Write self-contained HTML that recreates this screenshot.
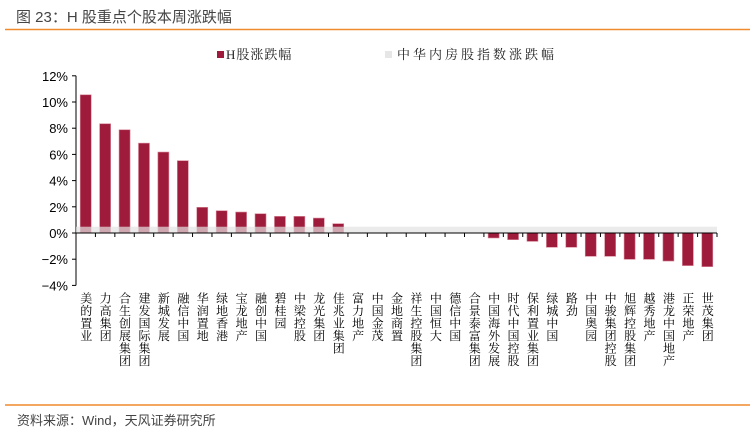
<!DOCTYPE html>
<html><head><meta charset="utf-8"><style>
body{margin:0;background:#fff;}
svg{display:block;font-family:"Liberation Sans","Noto Sans CJK SC",sans-serif;}
.serif{font-family:"Liberation Serif","Noto Serif CJK SC",serif;}
</style></head><body>
<svg id="chart" width="755" height="437">
<text x="16" y="22" font-size="15" fill="#444">图 23：H 股重点个股本周涨跌幅</text>
<line x1="5" y1="29.5" x2="750" y2="29.5" stroke="#F08A2C" stroke-width="1.5"/>
<g>
<rect x="217" y="51" width="7" height="7" fill="#9E1B3B"/>
<text x="226" y="59" font-size="13" fill="#222" class="serif" letter-spacing="1">H股涨跌幅</text>
<rect x="385" y="51" width="7" height="7" fill="#E6E6E6"/>
<text x="397" y="59" font-size="13" fill="#222" class="serif" letter-spacing="3">中华内房股指数涨跌幅</text>
</g>
<g id="plot"></g>
<line x1="5" y1="405" x2="750" y2="405" stroke="#F08A2C" stroke-width="1.5"/>
<text x="17" y="425" font-size="13" fill="#444">资料来源：Wind，天风证券研究所</text>
</svg>
<script>
const categories=["美的置业","力高集团","合生创展集团","建发国际集团","新城发展","融信中国","华润置地","绿地香港","宝龙地产","融创中国","碧桂园","中梁控股","龙光集团","佳兆业集团","富力地产","中国金茂","金地商置","祥生控股集团","中国恒大","德信中国","合景泰富集团","中国海外发展","时代中国控股","保利置业集团","绿城中国","路劲","中国奥园","中骏集团控股","旭辉控股集团","越秀地产","港龙中国地产","正荣地产","世茂集团"];
const hShareValues=[10.55,8.34,7.88,6.86,6.18,5.52,1.96,1.70,1.60,1.47,1.27,1.27,1.14,0.71,0,0,0,0,0,0,0,-0.38,-0.51,-0.64,-1.09,-1.09,-1.78,-1.78,-2.01,-2.01,-2.14,-2.49,-2.57];
const indexValue=[0.48];
const yTicks=[12,10,8,6,4,2,0,-2,-4];
const NS="http://www.w3.org/2000/svg";
const g=document.getElementById('plot');
const X0=76,X1=717,Y0=233,PER=13.1;
const bw=(X1-X0)/categories.length;
const y=v=>Y0-v*PER;
const xc=i=>X0+bw*(i+0.5);
function mk(t,a){const e=document.createElementNS(NS,t);for(const k in a)e.setAttribute(k,a[k]);g.appendChild(e);return e;}
let ax=mk('line',{x1:X0,y1:y(12),x2:X0,y2:y(-4),stroke:'#000','stroke-width':1});


yTicks.forEach(t=>{
 const tk=mk('line',{x1:X0-4,y1:y(t),x2:X0,y2:y(t),stroke:'#000'});
 
 
 const tx=mk('text',{x:X0-8,y:y(t)+5,'font-size':13,'text-anchor':'end',fill:'#000'});
 tx.textContent=(t<0?'\u2212'+(-t):t)+'%';
 
 
});
hShareValues.forEach((v,i)=>{
 if(v===0)return;
 const r=mk('rect',{x:xc(i)-5.5,y:Math.min(y(v),Y0),width:11,height:Math.abs(y(v)-Y0),fill:'#9E1B3B',stroke:'#D68497','stroke-width':0.6});
 
 
});
const band=mk('rect',{x:X0,y:y(indexValue[0]),width:X1-X0,height:Y0-y(indexValue[0]),fill:'#E2E2E2','fill-opacity':0.7});


const xa=mk('line',{x1:X0,y1:Y0,x2:X1,y2:Y0,stroke:'#000','stroke-width':1});


categories.forEach((c,i)=>{
 const xt=X0+bw*(i+1);
 const tk=mk('line',{x1:xt,y1:Y0,x2:xt,y2:Y0+4,stroke:'#000'});
 
 
 const tx=mk('text',{x:xc(i),y:292,'font-size':12,fill:'#000','letter-spacing':0.5,'class':'serif',style:'writing-mode:vertical-rl'});
 tx.textContent=c;
 
 
});
</script>
</body></html>
